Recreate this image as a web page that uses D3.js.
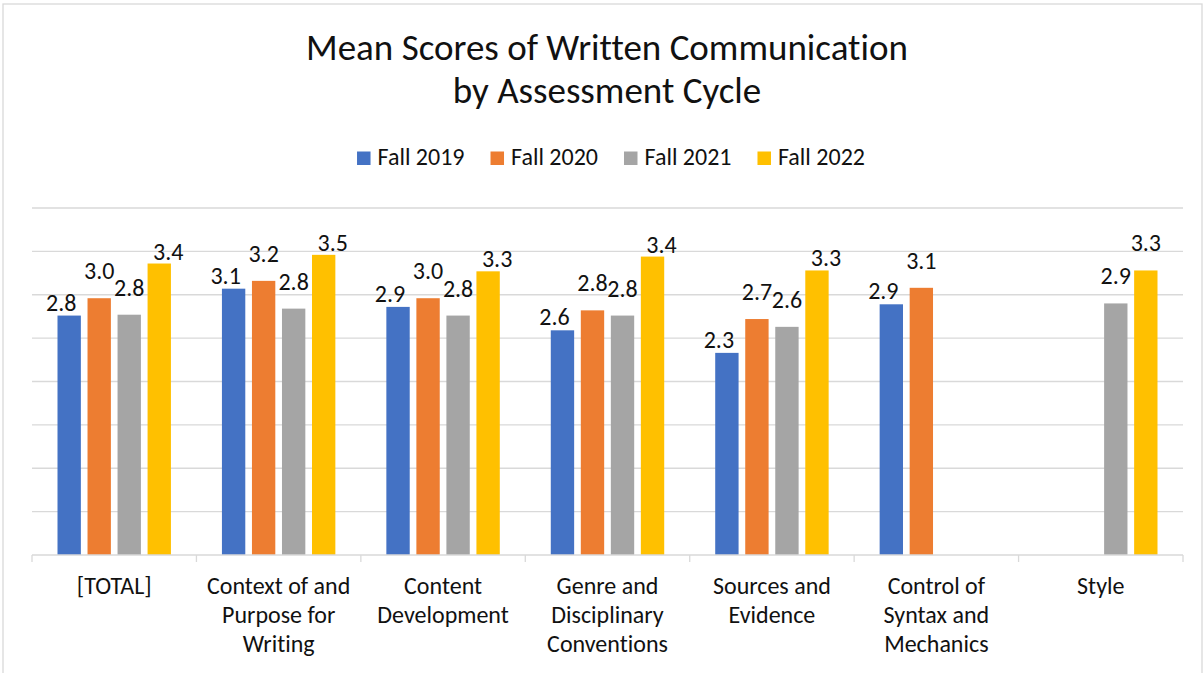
<!DOCTYPE html>
<html>
<head>
<meta charset="utf-8">
<script src="https://cdn.jsdelivr.net/npm/d3@7"></script>
<style>
  body { margin: 0; background: #fff; }
  text { font-family: Carlito, Calibri, Lato, sans-serif; fill: #111; font-variant-ligatures: none; }
</style>
</head>
<body>
<div id="chart"></div>
<script>
// data
var categories = ["[TOTAL]", "Context of and Purpose for Writing", "Content Development",
                  "Genre and Disciplinary Conventions", "Sources and Evidence",
                  "Control of Syntax and Mechanics", "Style"];
var seriesNames = ["Fall 2019", "Fall 2020", "Fall 2021", "Fall 2022"];
var fall2019 = [2.76, 3.07, 2.86, 2.59, 2.33, 2.89, null];
var fall2020 = [2.96, 3.16, 2.96, 2.82, 2.72, 3.08, null];
var fall2021 = [2.77, 2.84, 2.76, 2.76, 2.63, null, 2.90];
var fall2022 = [3.36, 3.46, 3.27, 3.44, 3.28, null, 3.28];
var gridTicks = [0.5, 1, 1.5, 2, 2.5, 3, 3.5, 4];
var titleLines = ["Mean Scores of Written Communication", "by Assessment Cycle"];

var seriesValues = [fall2019, fall2020, fall2021, fall2022];
var colors = ["#4472C4", "#ED7D31", "#A5A5A5", "#FFC000"];

var width = 1204, height = 673;
var plot = {left: 32, right: 1183, top: 208, bottom: 555};

var svg = d3.select('#chart').append('svg')
    .attr('width', width)
    .attr('height', height);

// chart frame
svg.append('rect')
    .attr('x', 3).attr('y', 4)
    .attr('width', 1199).attr('height', 700)
    .attr('fill', 'none')
    .attr('stroke', '#d9d9d9')
    .attr('stroke-width', 1.3);

var x0 = d3.scaleBand()
    .domain(categories)
    .range([plot.left, plot.right]);

var x1 = d3.scaleBand()
    .domain(seriesNames)
    .range([25.5, x0.bandwidth() - 25.5])
    .paddingInner(0.222);

var y = d3.scaleLinear()
    .domain([0, 4])
    .range([plot.bottom, plot.top]);

// title
svg.append('g').selectAll('text')
  .data(titleLines)
  .enter().append('text')
    .attr('x', 607)
    .attr('y', function(d, i) { return 60 + i * 43; })
    .attr('text-anchor', 'middle')
    .style('font-size', '37px')
    .text(function(d) { return d; });

// gridlines
svg.append('g').selectAll('line')
  .data(gridTicks)
  .enter().append('line')
    .attr('x1', plot.left).attr('x2', plot.right)
    .attr('y1', y).attr('y2', y)
    .attr('stroke', '#d9d9d9')
    .attr('stroke-width', 1.3);

// bars
var rows = [];
categories.forEach(function(c, ci) {
  seriesNames.forEach(function(s, si) {
    var v = seriesValues[si][ci];
    if (v != null) rows.push({cat: c, ci: ci, series: s, si: si, value: v});
  });
});

svg.append('g').selectAll('rect')
  .data(rows)
  .enter().append('rect')
    .attr('x', function(d) { return x0(d.cat) + x1(d.series); })
    .attr('y', function(d) { return y(d.value); })
    .attr('width', x1.bandwidth())
    .attr('height', function(d) { return y(0) - y(d.value); })
    .attr('fill', function(d) { return colors[d.si]; });

// data labels: excel nudges the outer ones down and sideways when the group is full
function labelShift(d) {
  var hasBlue = fall2019[d.ci] != null;
  if (d.si == 0) return {dx: -8, gap: 5};
  if (d.si == 3 && hasBlue) return {dx: 9, gap: 4};
  return {dx: 0, gap: 19};
}

svg.append('g').selectAll('text')
  .data(rows)
  .enter().append('text')
    .attr('x', function(d) { return x0(d.cat) + x1(d.series) + x1.bandwidth() / 2 + labelShift(d).dx; })
    .attr('y', function(d) { return y(d.value) - labelShift(d).gap; })
    .attr('text-anchor', 'middle')
    .style('font-size', '24px')
    .text(function(d) { return d.value.toFixed(1); });

// category axis
var axis = svg.append('g');
axis.append('line')
    .attr('x1', plot.left).attr('x2', plot.right)
    .attr('y1', plot.bottom).attr('y2', plot.bottom)
    .attr('stroke', '#d9d9d9')
    .attr('stroke-width', 1.3);

var bounds = categories.map(function(c) { return x0(c); }).concat([plot.right]);
axis.selectAll('line.tick')
  .data(bounds)
  .enter().append('line')
    .attr('class', 'tick')
    .attr('x1', function(d) { return d; }).attr('x2', function(d) { return d; })
    .attr('y1', plot.bottom).attr('y2', plot.bottom + 7)
    .attr('stroke', '#d9d9d9')
    .attr('stroke-width', 1.3);

var catLabels = axis.selectAll('text')
  .data(categories)
  .enter().append('text')
    .attr('x', function(d) { return x0(d) + x0.bandwidth() / 2; })
    .attr('y', 594)
    .attr('text-anchor', 'middle')
    .style('font-size', '24px');

catLabels.each(function(d) {
  var el = d3.select(this);
  var words = d.split(' ');
  var line = [];
  var tspan = el.append('tspan').attr('x', el.attr('x')).attr('dy', 0);
  words.forEach(function(w) {
    line.push(w);
    tspan.text(line.join(' '));
    if (tspan.node().getComputedTextLength() > 155 && line.length > 1) {
      line.pop();
      tspan.text(line.join(' '));
      line = [w];
      tspan = el.append('tspan').attr('x', el.attr('x')).attr('dy', 29).text(w);
    }
  });
});

// legend
var legend = svg.append('g');
var items = legend.selectAll('g')
  .data(seriesNames)
  .enter().append('g');

items.append('rect')
    .attr('width', 13.5).attr('height', 13.5)
    .attr('y', 151.5)
    .attr('fill', function(d, i) { return colors[i]; });

items.append('text')
    .attr('x', 20.5)
    .attr('y', 165)
    .style('font-size', '24px')
    .text(function(d) { return d; });

var pos = 0, offsets = [];
items.each(function() {
  offsets.push(pos);
  pos += 20.5 + d3.select(this).select('text').node().getComputedTextLength() + 26;
});
var legendWidth = pos - 26;
var legendStart = 611 - legendWidth / 2;
items.attr('transform', function(d, i) { return 'translate(' + (legendStart + offsets[i]) + ',0)'; });
</script>
</body>
</html>
